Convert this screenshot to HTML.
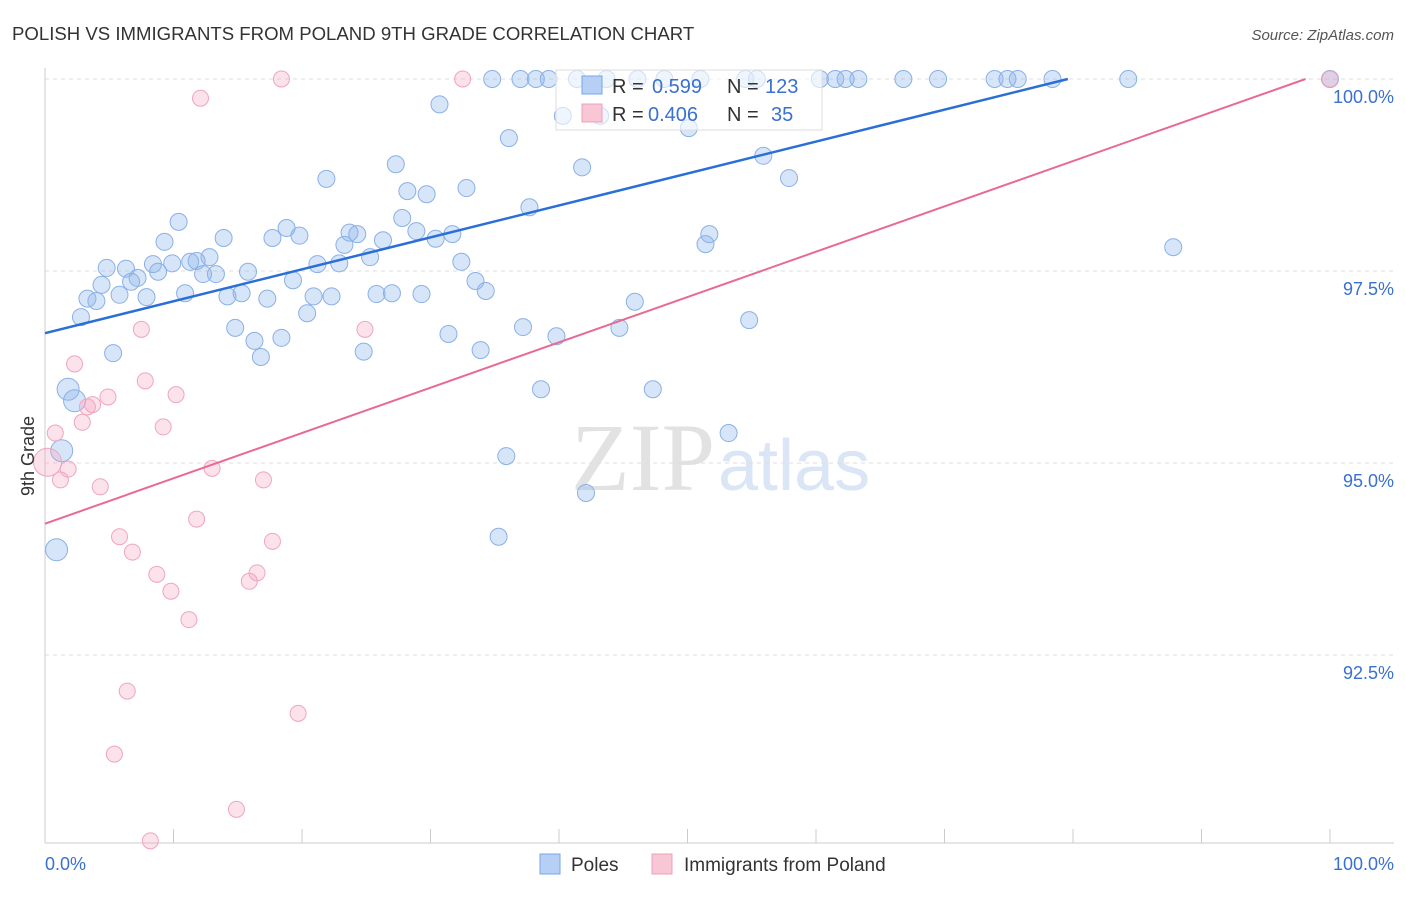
<!DOCTYPE html>
<html><head><meta charset="utf-8"><style>
body{margin:0;background:#fff;font-family:"Liberation Sans",sans-serif}
</style></head><body>
<svg width="1406" height="892" xmlns="http://www.w3.org/2000/svg" id="svg" style="font-family:'Liberation Sans',sans-serif">
<text x="12" y="40" font-size="18.6" fill="#333">POLISH VS IMMIGRANTS FROM POLAND 9TH GRADE CORRELATION CHART</text>
<text x="1394" y="40" font-size="15" fill="#555" font-style="italic" text-anchor="end">Source: ZipAtlas.com</text>
<text x="715" y="490" font-size="96" fill="#e2e2e2" font-family="'Liberation Serif',serif" text-anchor="end">ZIP</text>
<text x="718" y="490" font-size="72" fill="#dae5f6">atlas</text>
<g id="grid"></g><g id="pts"></g><g id="lines"></g>
<text transform="translate(34,456) rotate(-90)" font-size="18" fill="#333" text-anchor="middle">9th Grade</text>
<text x="45" y="870" font-size="18" fill="#3a70d0">0.0%</text>
<text x="1394" y="870" font-size="18" fill="#3a70d0" text-anchor="end">100.0%</text>
<g>
<rect x="556" y="70" width="266" height="60" fill="#fff" fill-opacity="0.6" stroke="#ddd"/>
<rect x="582" y="76" width="20" height="18" fill="#b5cff5" stroke="#7aa5e5"/>
<text x="612" y="93" font-size="20" fill="#333">R = </text><text x="652" y="93" font-size="20" fill="#3a70d0">0.599</text>
<text x="727" y="93" font-size="20" fill="#333">N = </text><text x="765" y="93" font-size="20" fill="#3a70d0">123</text>
<rect x="582" y="104" width="20" height="18" fill="#f8c6d5" stroke="#eea0b8"/>
<text x="612" y="121" font-size="20" fill="#333">R = </text><text x="648" y="121" font-size="20" fill="#3a70d0">0.406</text>
<text x="727" y="121" font-size="20" fill="#333">N = </text><text x="771" y="121" font-size="20" fill="#3a70d0">35</text>
</g>
<g>
<rect x="540" y="854" width="20" height="20" fill="#b5cff5" stroke="#7aa5e5"/>
<text x="571" y="871" font-size="19" fill="#333">Poles</text>
<rect x="652" y="854" width="20" height="20" fill="#f8c6d5" stroke="#eea0b8"/>
<text x="684" y="871" font-size="19" fill="#333">Immigrants from Poland</text>
</g>
</svg>
<script>
const yTicks=[100,97.5,95,92.5];
const yTickLabels=["100.0%","97.5%","95.0%","92.5%"];
const xTicks=[0,10,20,30,40,50,60,70,80,90,100];
const polesX=[34.8,37.0,38.2,39.2,41.4,43.7,46.1,48.2,51.0,54.5,55.4,60.3,61.5,62.3,63.3,66.8,69.5,73.9,74.9,75.7,78.4,84.3,100,30.7,40.3,43.2,36.1,50.1,41.8,55.9,57.9,27.3,21.9,28.2,29.7,32.8,37.7,27.8,28.9,30.4,31.7,23.7,24.3,23.3,26.3,25.3,18.8,19.8,17.7,13.9,10.4,9.3,12.8,11.8,11.3,9.9,8.4,8.8,6.3,4.8,7.2,6.7,4.4,3.3,4.0,5.8,7.9,10.9,13.3,12.3,15.8,19.3,21.2,22.9,15.3,14.2,17.3,20.9,22.3,25.8,27.0,29.3,32.4,33.5,34.3,20.4,14.8,16.3,18.4,16.8,5.3,2.8,24.8,31.4,33.9,37.2,39.8,44.7,45.9,51.7,51.4,54.8,87.8,38.6,47.3,53.2,35.9,42.1,35.3,1.8,2.3,1.3,0.9];
const polesY=[100,100,100,100,100,100,100,100,100,100,100,100,100,100,100,100,100,100,100,100,100,100,100,99.67,99.52,99.52,99.23,99.36,98.85,99.0,98.71,98.89,98.70,98.54,98.50,98.58,98.33,98.19,98.02,97.92,97.98,98.0,97.98,97.84,97.90,97.68,98.06,97.96,97.93,97.93,98.14,97.88,97.68,97.63,97.62,97.60,97.59,97.49,97.53,97.54,97.41,97.36,97.32,97.14,97.11,97.19,97.16,97.21,97.46,97.46,97.49,97.38,97.59,97.60,97.21,97.17,97.14,97.17,97.17,97.20,97.21,97.20,97.62,97.37,97.24,96.95,96.76,96.59,96.63,96.38,96.43,96.90,96.45,96.68,96.47,96.77,96.65,96.76,97.10,97.98,97.85,96.86,97.81,95.96,95.96,95.39,95.09,94.61,94.04,95.96,95.81,95.16,93.87];
const immX=[18.4,32.5,100,12.1,7.5,24.9,2.3,7.8,10.2,4.9,3.7,3.3,2.9,9.2,0.8,1.8,13.0,1.2,17.0,4.3,11.8,5.8,17.7,6.8,8.7,16.5,9.8,15.9,11.2,6.4,19.7,5.4,14.9,8.2,0.2];
const immY=[100,100,100,99.75,96.74,96.74,96.29,96.07,95.89,95.86,95.76,95.73,95.53,95.47,95.39,94.92,94.93,94.78,94.78,94.69,94.27,94.04,93.98,93.84,93.55,93.57,93.33,93.46,92.96,92.03,91.74,91.21,90.49,90.08,95.01];
const polesTrend=[0,96.69,79.6,100];
const immTrend=[0,94.21,98.1,100];
const X=v=>45+v*12.85, Y=v=>79+(100-v)*76.8;
const NS="http://www.w3.org/2000/svg";
function mk(t,a,p){const e=document.createElementNS(NS,t);for(const k in a)e.setAttribute(k,a[k]);p.appendChild(e);return e;}
const g=document.getElementById('grid');
yTicks.forEach((t,i)=>{
 const l=mk('line',{x1:45,x2:1394,y1:Y(t),y2:Y(t),stroke:'#ddd','stroke-dasharray':'4,4'},g);
 
 
 const tx=mk('text',{x:1394,y:Y(t)+24,'font-size':18,fill:'#3a70d0','text-anchor':'end'},g);
 tx.textContent=yTickLabels[i];
 
 
});
const ax=mk('line',{x1:45,x2:45,y1:68,y2:843,stroke:'#ccc'},g);


const bx=mk('line',{x1:45,x2:1394,y1:843,y2:843,stroke:'#ccc'},g);


xTicks.forEach(t=>{const l=mk('line',{x1:X(t),x2:X(t),y1:829,y2:843,stroke:'#ccc'},g);
 
 });
const p=document.getElementById('pts');
polesX.forEach((x,i)=>{const big=i>=polesX.length-4;
 const c=mk('circle',{cx:X(x),cy:Y(polesY[i]),r:big?11:8.5,fill:'rgba(140,180,235,0.35)',stroke:'#8ab0e8','stroke-width':1},p);
 
 });
immX.forEach((x,i)=>{const big=i==immX.length-1;
 const c=mk('circle',{cx:X(x),cy:Y(immY[i]),r:big?14:8,fill:'rgba(245,160,190,0.3)',stroke:'#f0a5bd','stroke-width':1},p);
 
 });
const L=document.getElementById('lines');
const a=mk('line',{x1:X(polesTrend[0]),y1:Y(polesTrend[1]),x2:X(polesTrend[2]),y2:Y(polesTrend[3]),stroke:'#2a6fd6','stroke-width':2.5},L);


const b=mk('line',{x1:X(immTrend[0]),y1:Y(immTrend[1]),x2:X(immTrend[2]),y2:Y(immTrend[3]),stroke:'#e86a94','stroke-width':2},L);


</script>
</body></html>
